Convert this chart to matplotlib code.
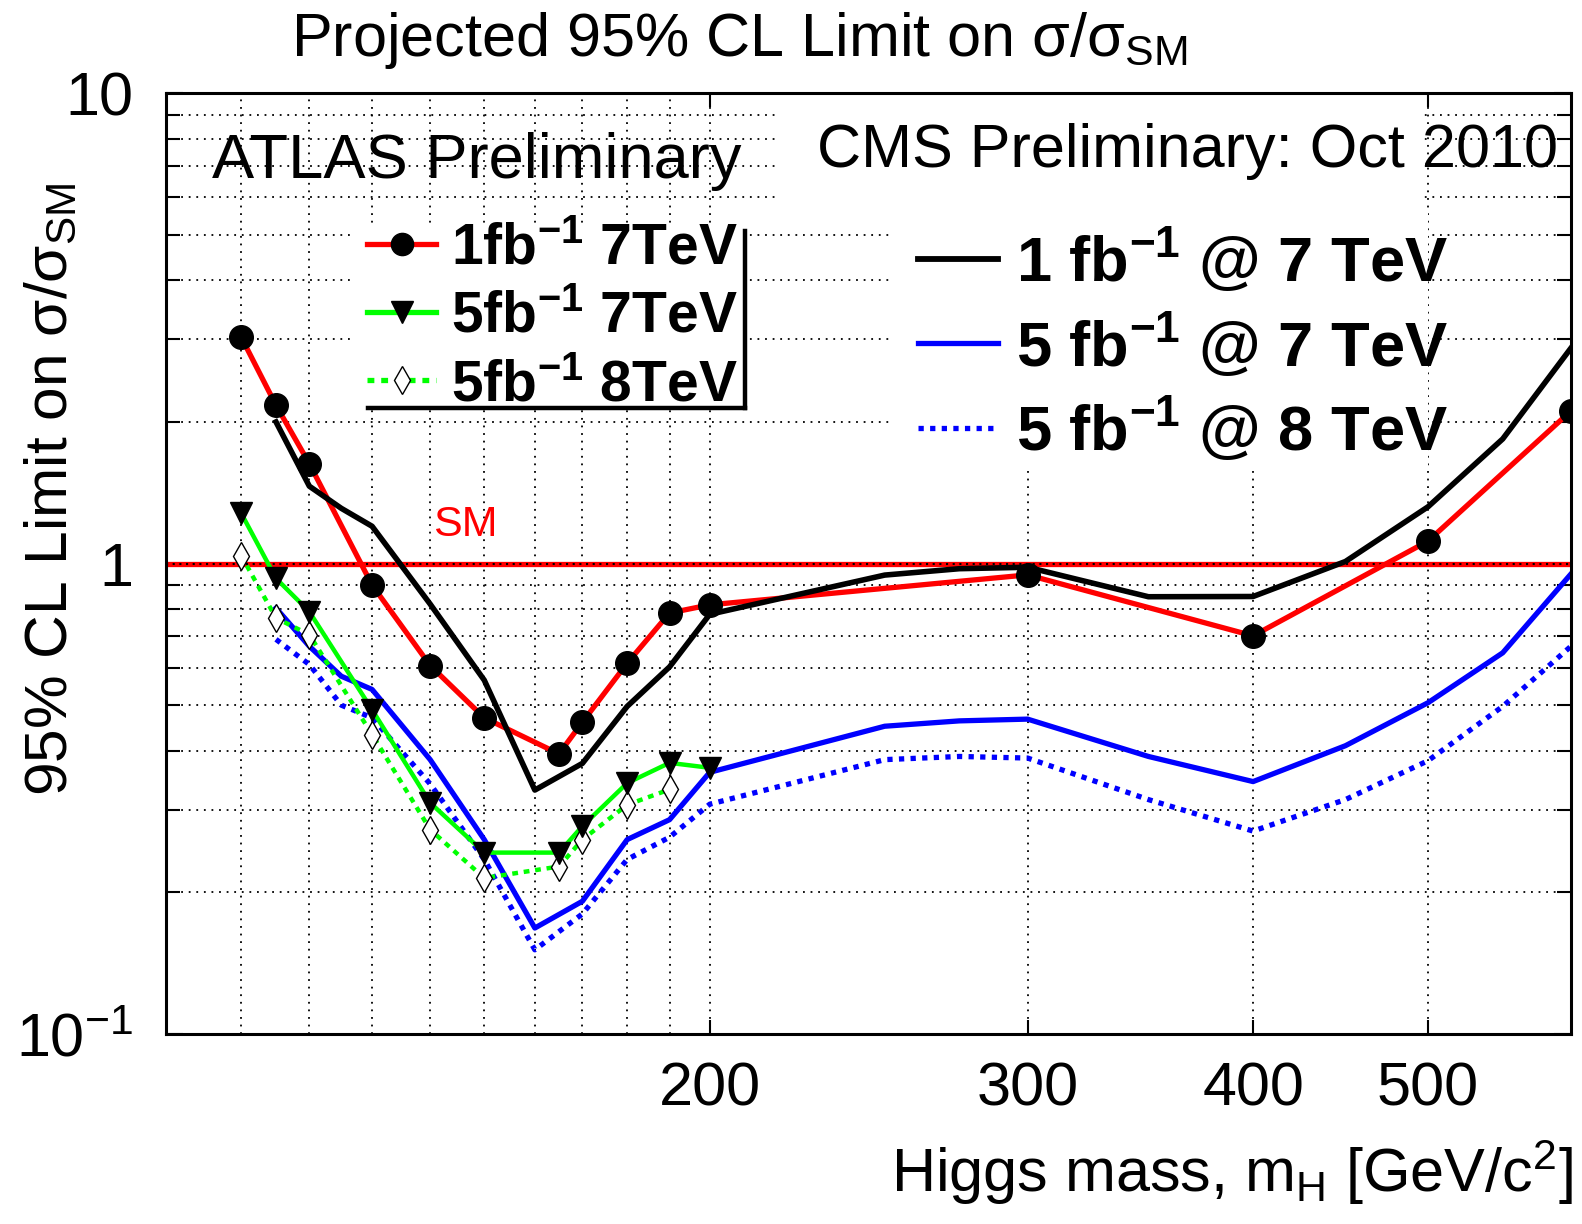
import matplotlib
matplotlib.use('Agg')
import matplotlib.pyplot as plt
from matplotlib.lines import Line2D
from matplotlib.patches import Rectangle
from matplotlib.ticker import FixedLocator, FixedFormatter, NullFormatter

plt.rcParams['font.family'] = ['Liberation Sans', 'DejaVu Sans']
plt.rcParams['mathtext.fontset'] = 'custom'
plt.rcParams['mathtext.rm'] = 'Liberation Sans'
plt.rcParams['mathtext.it'] = 'Liberation Sans:italic'
plt.rcParams['mathtext.bf'] = 'Liberation Sans:bold'

# ATLAS projections (points)
atlas_mass = [110, 115, 120, 130, 140, 150, 165, 170, 180, 190, 200, 300, 400, 500, 600]
atlas_1fb_7tev = [3.03, 2.17, 1.63, 0.90, 0.607, 0.47, 0.394, 0.46, 0.614, 0.785, 0.817,
                  0.946, 0.702, 1.116, 2.11]
atlas5_mass = [110, 115, 120, 130, 140, 150, 165, 170, 180, 190, 200]
atlas_5fb_7tev = [1.28, 0.93, 0.79, 0.489, 0.31, 0.243, 0.243, 0.2765, 0.3415, 0.377, 0.368]
atlas8_mass = [110, 115, 120, 130, 140, 150, 165, 170, 180, 190]
atlas_5fb_8tev = [1.04, 0.766, 0.706, 0.433, 0.272, 0.2146, 0.227, 0.259, 0.307, 0.331]

# CMS projections (curves)
cms_mass = [115, 120, 125, 130, 140, 150, 160, 170, 180, 190, 200, 250, 275, 300,
            350, 400, 450, 500, 550, 600]
cms_1fb_7tev = [2.0, 1.46, 1.31, 1.20, 0.82, 0.565, 0.33, 0.376, 0.497, 0.603, 0.78,
                0.945, 0.975, 0.982, 0.85, 0.851, 1.01, 1.32, 1.84, 2.87]
cms_5fb_7tev = [0.804, 0.667, 0.576, 0.54, 0.383, 0.259, 0.168, 0.1915, 0.259, 0.2855,
                0.36, 0.451, 0.463, 0.467, 0.389, 0.344, 0.41, 0.506, 0.646, 0.95]
cms_5fb_8tev = [0.69, 0.61, 0.50, 0.47, 0.34, 0.235, 0.151, 0.18, 0.235, 0.262, 0.308,
                0.383, 0.389, 0.386, 0.315, 0.27, 0.315, 0.381, 0.497, 0.667]

sm_level = 1.0
x_ticks = [200, 300, 400, 500]
x_grid = [110, 120, 130, 140, 150, 160, 170, 180, 190]
y_ticks = [0.1, 1, 10]
y_ticklabels = ['10$^{-1}$', '1', '10']

RED, GREEN, BLUE = '#ff0000', '#00ff00', '#0000ff'
DOTS = (0, (1, 1.2))

fig = plt.figure(figsize=(15.82, 12.24), dpi=100)
ax = fig.add_axes([0.1052, 0.1552, 0.8878, 0.7688])
ax.set_xscale('log')
ax.set_yscale('log')
ax.set_xlim(100, 600)
ax.set_ylim(0.1, 10)
ax.set_axisbelow(True)

ax.xaxis.set_major_locator(FixedLocator(x_ticks))
ax.xaxis.set_major_formatter(FixedFormatter([str(v) for v in x_ticks]))
ax.xaxis.set_minor_locator(FixedLocator(x_grid))
ax.xaxis.set_minor_formatter(NullFormatter())
ax.yaxis.set_major_locator(FixedLocator(y_ticks))
ax.yaxis.set_major_formatter(FixedFormatter(y_ticklabels))
ax.yaxis.set_minor_locator(FixedLocator(
    [s * d for d in (0.1, 1) for s in range(2, 10)]))
ax.yaxis.set_minor_formatter(NullFormatter())

ax.tick_params(which='both', direction='in', top=True, right=True, width=1.5,
               labelsize=44, colors='black')
ax.tick_params(axis='x', which='major', length=10, pad=20)
ax.tick_params(axis='x', which='minor', length=0)
ax.tick_params(axis='y', which='major', length=12, pad=24)
ax.tick_params(axis='y', which='minor', length=10)
for sp in ax.spines.values():
    sp.set_linewidth(2.2)

ax.grid(True, which='both', color='black', linestyle=(0, (1, 3.2)), linewidth=1.3)

# white boxes behind the legends and the CMS label hide the grid
for x0, y0, x1, y1 in [(0.132, 0.663, 0.412, 0.860),    # ATLAS legend
                       (0.517, 0.599, 0.898, 0.876),    # CMS legend
                       (0.435, 0.876, 0.894, 1.000)]:   # CMS label
    ax.add_patch(Rectangle((x0, y0), x1 - x0, y1 - y0, transform=ax.transAxes,
                           facecolor='white', edgecolor='none', zorder=1))

# SM reference
ax.axhline(sm_level, color=RED, linewidth=3.8, zorder=1.5)
ax.axhline(sm_level, color='black', linestyle=(0, (1, 2.2)), linewidth=1.5, zorder=1.6)
ax.text(146.5, 1.21, 'SM', color=RED, fontsize=31, ha='center', va='center')

# CMS curves
ax.plot(cms_mass, cms_5fb_8tev, color=BLUE, linewidth=3.8, linestyle=DOTS, zorder=2)
ax.plot(cms_mass, cms_5fb_7tev, color=BLUE, linewidth=3.8, zorder=2.1)

# ATLAS lines
ax.plot(atlas8_mass, atlas_5fb_8tev, color=GREEN, linewidth=3.2,
        linestyle=(0, (1.3, 1.3)), zorder=2.5)
ax.plot(atlas5_mass, atlas_5fb_7tev, color=GREEN, linewidth=3.2, zorder=2.6)
ax.plot(atlas_mass, atlas_1fb_7tev, color=RED, linewidth=3.8, zorder=2.7)
ax.plot(cms_mass, cms_1fb_7tev, color='black', linewidth=4.0, zorder=2.8)

# ATLAS markers
ax.plot(atlas8_mass, atlas_5fb_8tev, linestyle='none', marker='d', markersize=14,
        markerfacecolor='white', markeredgecolor='black', markeredgewidth=1.0, zorder=4)
ax.plot(atlas5_mass, atlas_5fb_7tev, linestyle='none', marker='v', markersize=16.5,
        color='black', zorder=4)
ax.plot(atlas_mass, atlas_1fb_7tev, linestyle='none', marker='o', markersize=17,
        color='black', zorder=4)

# legends
atlas_handles = [
    Line2D([], [], color=RED, linewidth=3.8, marker='o', markersize=16,
           markerfacecolor='black', markeredgecolor='black'),
    Line2D([], [], color=GREEN, linewidth=3.8, marker='v', markersize=16,
           markerfacecolor='black', markeredgecolor='black'),
    Line2D([], [], color=GREEN, linewidth=3.8, linestyle=(0, (1.3, 1.3)), marker='d',
           markersize=14, markerfacecolor='white', markeredgecolor='black',
           markeredgewidth=1.0),
]
atlas_labels = [r'1fb$^{\mathbf{-1}}$ 7TeV', r'5fb$^{\mathbf{-1}}$ 7TeV',
                r'5fb$^{\mathbf{-1}}$ 8TeV']
leg1 = fig.legend(atlas_handles, atlas_labels, loc='upper left',
                  bbox_to_anchor=(0.2285, 0.8235), frameon=False,
                  prop={'weight': 'bold', 'size': 41}, handlelength=1.21,
                  handletextpad=0.26, labelspacing=0.25, borderpad=0.1,
                  borderaxespad=0)
leg1.set_zorder(5)

cms_handles = [
    Line2D([], [], color='black', linewidth=4.2),
    Line2D([], [], color=BLUE, linewidth=3.8),
    Line2D([], [], color=BLUE, linewidth=3.8, linestyle=DOTS),
]
cms_labels = [r'1 fb$^{\mathbf{-1}}$ @ 7 TeV', r'5 fb$^{\mathbf{-1}}$ @ 7 TeV',
              r'5 fb$^{\mathbf{-1}}$ @ 8 TeV']
leg2 = fig.legend(cms_handles, cms_labels, loc='upper left',
                  bbox_to_anchor=(0.576, 0.8215), frameon=False,
                  prop={'weight': 'bold', 'size': 45.5}, handlelength=1.28,
                  handletextpad=0.28, labelspacing=0.25, borderpad=0.1,
                  borderaxespad=0)

# texts
fig.text(0.467, 0.967, r'Projected 95% CL Limit on σ/σ$_{\mathrm{SM}}$', fontsize=44,
         ha='center', va='center')
fig.text(0.134, 0.868, 'ATLAS Preliminary', fontsize=45.5, ha='left', va='center')
fig.text(0.985, 0.876, 'CMS Preliminary: Oct 2010', fontsize=44, ha='right', va='center')
fig.text(0.032, 0.60, r'95% CL Limit on σ/σ$_{\mathrm{SM}}$', fontsize=43.5,
         rotation=90, ha='center', va='center')
fig.text(0.994, 0.042, r'Higgs mass, m$_{\mathrm{H}}$ [GeV/c$^{2}$]', fontsize=44,
         ha='right', va='center')

# shadow edges of the ATLAS legend box
fig.canvas.draw()
bb = leg1.get_window_extent().transformed(fig.transFigure.inverted())
x_edge = bb.x1 + 0.0008
y_edge = bb.y0 + 0.008
fig.add_artist(Line2D([bb.x0 + 0.004, x_edge], [y_edge, y_edge],
                      color='black', linewidth=3.2, transform=fig.transFigure))
fig.add_artist(Line2D([x_edge, x_edge], [y_edge, bb.y1 - 0.012],
                      color='black', linewidth=3.2, transform=fig.transFigure))

fig.savefig('out.png', dpi=100)
